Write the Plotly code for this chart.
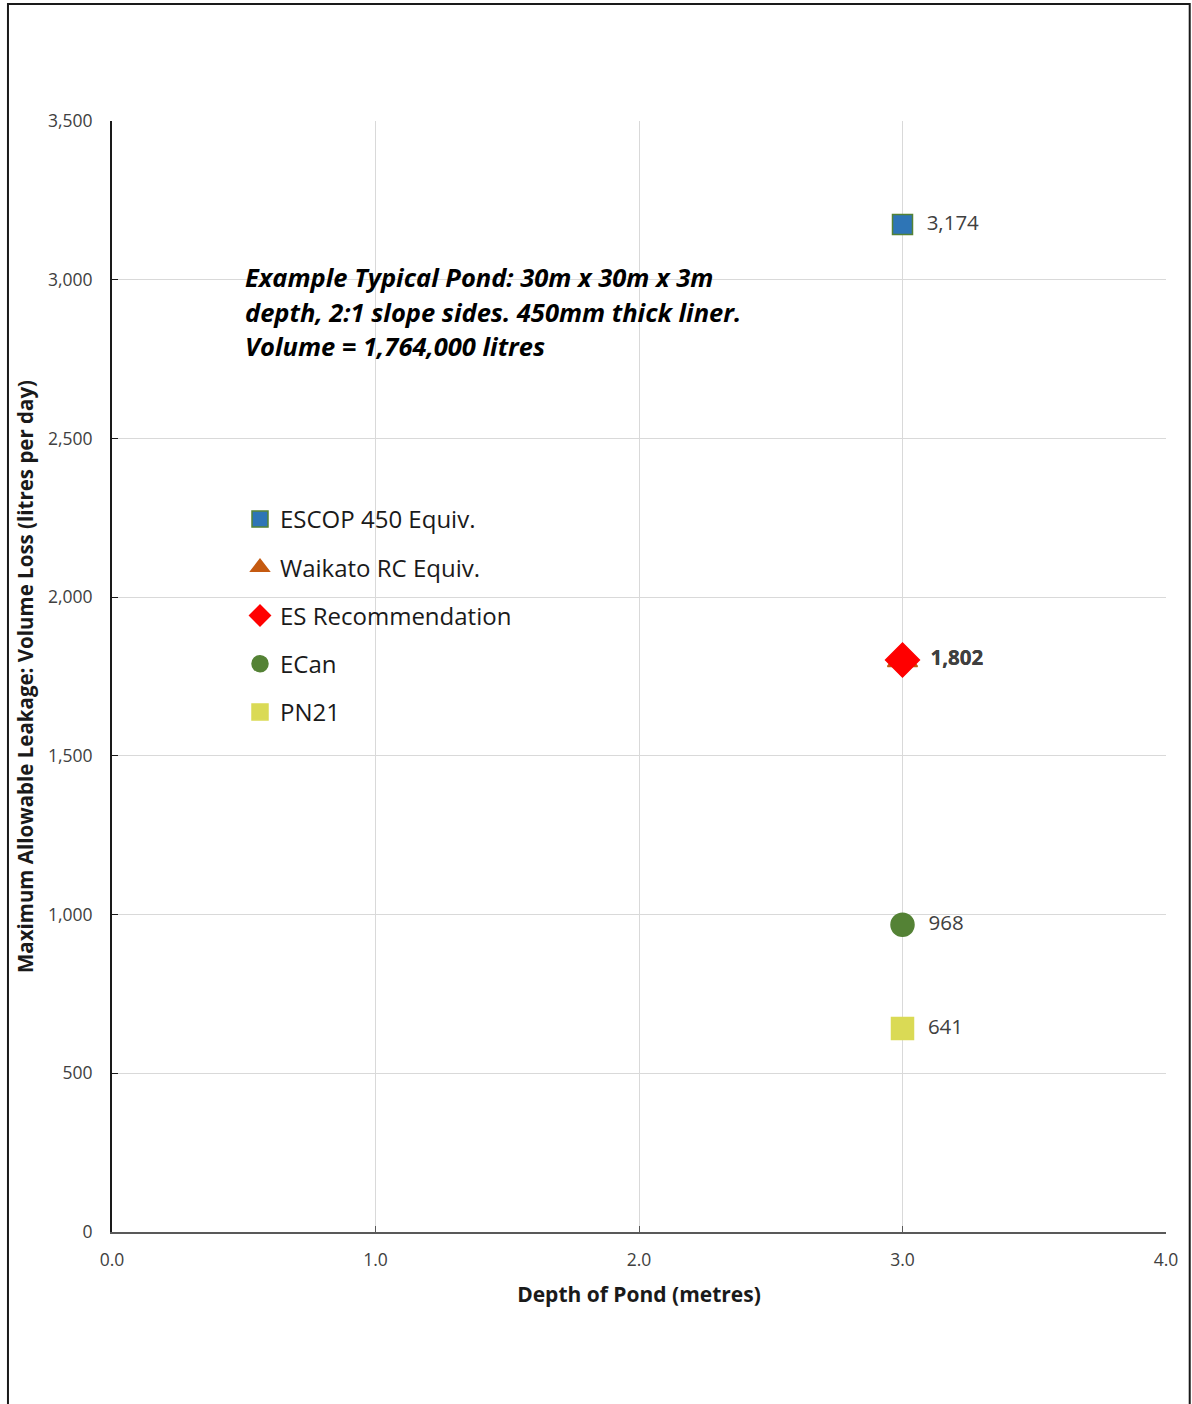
import plotly.graph_objects as go

# Pond depth (m) and maximum allowable daily leakage (litres) per standard
series_names = ["ESCOP 450 Equiv.", "Waikato RC Equiv.", "ES Recommendation", "ECan", "PN21"]
depths = [3.0, 3.0, 3.0, 3.0, 3.0]
leakage = [3174, 1802, 1802, 968, 641]

marker_symbols = ["square", "triangle-up", "diamond", "circle", "square"]
marker_colors = ["#2E75B6", "#C55A11", "#FF0000", "#548235", "#DADA55"]
marker_lines = ["#548235", "#C55A11", "#FF0000", "#548235", "#DADA55"]
marker_sizes = [20, 26, 26, 23, 22]

x_ticks = [0, 1, 2, 3, 4]
y_ticks = [0, 500, 1000, 1500, 2000, 2500, 3000, 3500]

note_lines = [
    "Example Typical Pond: 30m x 30m x 3m",
    "depth, 2:1 slope sides. 450mm thick liner.",
    "Volume = 1,764,000 litres",
]

FONT = "'Open Sans', Lato, sans-serif"

fig = go.Figure()
for i, name in enumerate(series_names):
    label = f"{leakage[i]:,}"
    # the two coincident 1,802 points stack their labels, which reads as bold
    if leakage.count(leakage[i]) > 1:
        label = f"<b>{label}</b>"
    fig.add_trace(go.Scatter(
        x=[depths[i]], y=[leakage[i]],
        mode="markers+text",
        name=name,
        legendgroup=name,
        marker=dict(symbol=marker_symbols[i], size=marker_sizes[i], color=marker_colors[i],
                    line=dict(color=marker_lines[i], width=1.5)),
        text=["  " + label],
        textposition="middle right",
        textfont=dict(family=FONT, size=20.5, color="#404040"),
        cliponaxis=False,
    ))

# Outer chart frame
fig.add_shape(type="rect", xref="paper", yref="paper",
              x0=-0.0987, x1=1.0225, y0=-0.17, y1=1.1053,
              line=dict(color="#1a1a1a", width=2), layer="below")

# Pond description, one annotation per line for fixed line spacing
for k, line in enumerate(note_lines):
    fig.add_annotation(
        xref="paper", yref="paper", x=(243 - 112) / 1054, y=(1232 - (277 + 34.5 * k)) / 1111,
        xanchor="left", yanchor="middle", align="left", showarrow=False,
        text=f"<b><i>{line}</i></b>",
        font=dict(family=FONT, size=25.5, color="#000000"),
    )

fig.update_layout(
    width=1192, height=1404,
    margin=dict(l=112, r=26, t=121, b=172),
    paper_bgcolor="white", plot_bgcolor="white",
    font=dict(family=FONT, color="#404040"),
    showlegend=True,
    legend=dict(
        x=(240 - 112) / 1054, y=(1232 - 497) / 1111, xanchor="left", yanchor="top",
        bgcolor="rgba(0,0,0,0)", font=dict(family=FONT, size=24, color="#1a1a1a"),
        tracegroupgap=14, itemsizing="trace",
    ),
    xaxis=dict(
        range=[0, 4], tickvals=x_ticks, tickformat=".1f",
        showgrid=True, gridcolor="#D9D9D9", gridwidth=1,
        showline=True, linecolor="#595959", linewidth=2,
        ticks="inside", ticklen=6, tickcolor="#595959",
        tickfont=dict(family=FONT, size=17.5, color="#404040"),
        ticklabelstandoff=11,
        title=dict(text="<b>Depth of Pond (metres)</b>", font=dict(family=FONT, size=21, color="#1a1a1a"), standoff=17),
        zeroline=False,
    ),
    yaxis=dict(
        range=[0, 3500], tickvals=y_ticks, tickformat=",",
        showgrid=True, gridcolor="#D9D9D9", gridwidth=1,
        showline=True, linecolor="#1a1a1a", linewidth=2,
        ticks="inside", ticklen=6, tickcolor="#1a1a1a",
        tickfont=dict(family=FONT, size=17.5, color="#404040"),
        ticklabelstandoff=14,
        title=dict(text="<b>Maximum Allowable Leakage: Volume Loss (litres per day)</b>", font=dict(family=FONT, size=20.5, color="#1a1a1a"), standoff=9),
        zeroline=False,
    ),
)

fig.write_html("out.html")
